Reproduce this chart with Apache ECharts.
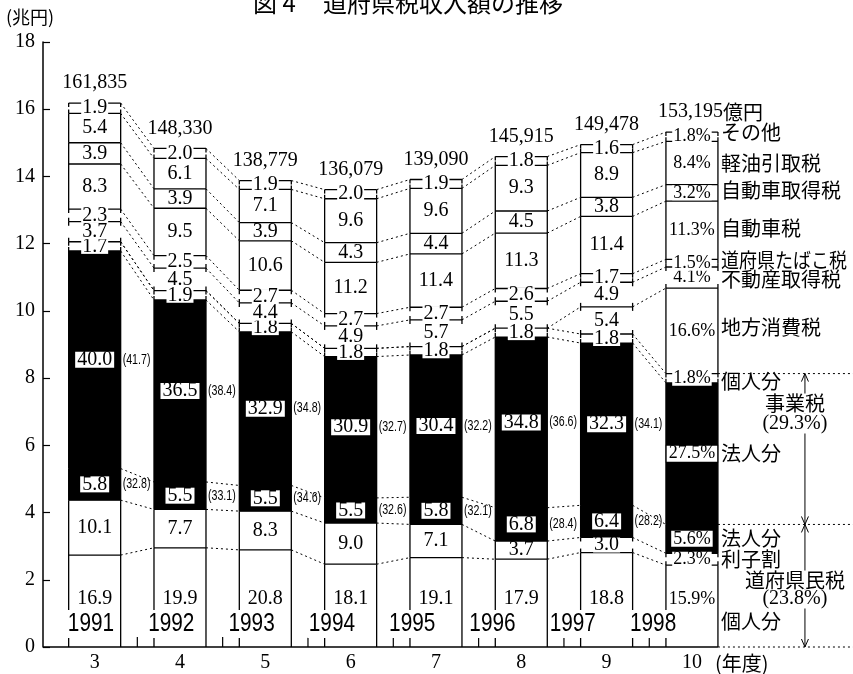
<!DOCTYPE html>
<html><head><meta charset="utf-8">
<script src="https://cdn.jsdelivr.net/npm/echarts@6/dist/echarts.min.js"></script>
<style>html,body{margin:0;padding:0;background:#fff}#c{width:853px;height:674px}</style>
</head><body><div id="c"></div>
<script>
// ---------- data ----------
const fiscalYears   = ['3','4','5','6','7','8','9','10'];
const calendarYears = ['1991','1992','1993','1994','1995','1996','1997','1998'];
const totals = [161835,148330,138779,136079,139090,145915,149478,153195]; // 億円
// shares (%) bottom -> top
const kojinFukenmin  = [16.9,19.9,20.8,18.1,19.1,17.9,18.8,15.9];
const rishiwari      = [10.1,7.7,8.3,9.0,7.1,3.7,3.0,2.3];
const hojinFukenmin  = [5.8,5.5,5.5,5.5,5.8,6.8,6.4,5.6];
const hojinJigyo     = [40.0,36.5,32.9,30.9,30.4,34.8,32.3,27.5];
const kojinJigyo     = [1.7,1.9,1.8,1.8,1.8,1.8,1.8,1.8];
const chihoShohi     = [0,0,0,0,0,0,5.4,16.6];
const fudosan        = [3.7,4.5,4.4,4.9,5.7,5.5,4.9,4.1];
const tabako         = [2.3,2.5,2.7,2.7,2.7,2.6,1.7,1.5];
const jidoshaZei     = [8.3,9.5,10.6,11.2,11.4,11.3,11.4,11.3];
const jidoshaShutoku = [3.9,3.9,3.9,4.3,4.4,4.5,3.8,3.2];
const keiyu          = [5.4,6.1,7.1,9.6,9.6,9.3,8.9,8.4];
const sonota         = [1.9,2.0,1.9,2.0,1.9,1.8,1.6,1.8];
const jigyoTotal     = [41.7,38.4,34.8,32.7,32.2,36.6,34.1,29.3];
const fukenminTotal  = [32.8,33.1,34.6,32.6,32.1,28.4,28.2,23.8];
const segmentNames = ['個人分','利子割','法人分','法人分','個人分','地方消費税','不動産取得税','道府県たばこ税','自動車税','自動車取得税','軽油引取税','その他'];
const groupNames = ['事業税','道府県民税'];

// ---------- style ----------
const SERIF = '"Liberation Serif","DejaVu Serif",serif';
const SANS = '"Liberation Sans",Arial,sans-serif';
const CJK = '"Noto Sans CJK JP",sans-serif';
const BAR_W = 52;
const layers = [kojinFukenmin, rishiwari, hojinFukenmin, hojinJigyo, kojinJigyo, chihoShohi, fudosan, tabako, jidoshaZei, jidoshaShutoku, keiyu, sonota];
const blackLayers = [2,3];
const bracketLayers = [4,5,6,7,11];
const nameDy = [22,0,0,0,3,-3,2,-3,-2,-2,0,-4];

function bounds(i){
  const vals = layers.map(a => a[i]);
  const sum = vals.reduce((s,v)=>s+v,0);
  const tot = totals[i]/10000;
  const b=[0];
  vals.forEach(v => b.push(b[b.length-1] + v/sum*tot));
  return b;
}
const fmt = n => n.toLocaleString('en-US');
const line = (x1,y1,x2,y2,w,dash) => ({type:'line', silent:true, shape:{x1,y1,x2,y2}, style:{stroke:'#000', lineWidth:w||1.3, lineDash:dash||null}});
const head = (x,y,dir) => ({type:'polyline', silent:true, shape:{points:[[x-3.5,y-dir*8],[x,y],[x+3.5,y-dir*8]]}, style:{stroke:'#000', fill:null, lineWidth:1}});
const txt = (text,x,y,o,sx) => ({type:'text', silent:true, z2:10, x, y, scaleX: sx||1,
  style:Object.assign({text,x:0,y:0,align:'center',verticalAlign:'middle',fill:'#000',fontSize:20,fontFamily:SERIF}, o||{})});

function renderItem(params, api){
  const i = params.dataIndex, n = totals.length, last = i===n-1;
  const cs = params.coordSys;
  const base = api.coord([i,0]);
  const cx = base[0], y0 = base[1];
  const xl = cx-BAR_W/2, xr = cx+BAR_W/2;
  const b = bounds(i);
  const ys = b.map(v => api.coord([i,v])[1]);
  const L = layers.length;
  const ch = [];
  for (let k=0;k<L;k++){
    const h = ys[k]-ys[k+1];
    if (h<=0) continue;
    ch.push({type:'rect', silent:true, shape:{x:xl,y:ys[k+1],width:BAR_W,height:h}, style:{fill: blackLayers.includes(k)?'#000':'#fff'}});
  }
  for (let k=1;k<=L;k++){
    if (layers[k-1][i]<=0) continue;
    ch.push(line(xl,ys[k],xr,ys[k]));
  }
  for (let k=0;k<L;k++){
    const top=ys[k+1], bot=ys[k], h=bot-top;
    if (h<=0) continue;
    const br = (bracketLayers.includes(k) && h<30) || h<16;
    if (br){
      const t=Math.min(4,h/2);
      [xl,xr].forEach(x=>{ch.push(line(x,top,x,top+t)); ch.push(line(x,bot-t,x,bot));});
    } else {
      [xl,xr].forEach(x=>ch.push(line(x,top,x,bot)));
    }
  }
  if (!last){
    const nb = bounds(i+1);
    const ncx = api.coord([i+1,0])[0];
    const nx = ncx-BAR_W/2;
    for (let k=1;k<=L;k++){
      const ny = api.coord([i+1,nb[k]])[1];
      ch.push(line(xr,ys[k],nx,ny,1,[2,3]));
    }
    const mx=(cx+ncx)/2;
    ch.push(line(mx,y0,mx,y0-10,1.2));
  }
  const fs = last?18:20;
  const labelY=[];
  for (let k=0;k<L;k++){
    const v = layers[k][i];
    labelY[k] = k===0 ? y0-48 : (ys[k]+ys[k+1])/2;
    if (v<=0) continue;
    const black = blackLayers.includes(k);
    ch.push(txt(v.toFixed(1)+(last?'%':''), cx, labelY[k], {fontSize:fs, backgroundColor:'#fff', padding: black?[1,2,0,2]:[0,1], borderColor: black?'#000':null, borderWidth: black?1:0, lineHeight:15}));
  }
  if (!last){
    [[3,jigyoTotal[i]],[2,fukenminTotal[i]]].forEach(([k,v]) =>
      ch.push(txt('('+v.toFixed(1)+')', xr+2, labelY[k], {align:'left', fontSize:14, fontFamily:SANS}, 0.76)));
  }
  const yt = ys[L]-20;
  if (!last) ch.push(txt(fmt(totals[i]), cx, yt));
  else ch.push(txt('{n|'+fmt(totals[i])+'}{u|億円}', cx-34, yt, {align:'left', rich:{n:{fontSize:20,fontFamily:SERIF}, u:{fontSize:20,fontFamily:CJK}}}));
  if (last){
    const W = api.getWidth();
    const xa = xr+87;
    ch.push(line(cs.x-9,y0,xr,y0,1.5));
    ch.push(line(xr,y0,W,y0,1,[2,3]));
    ch.push(line(xr,ys[5],W,ys[5],1,[2,3]));
    ch.push(line(xr,ys[3],W,ys[3],1,[2,3]));
    ch.push(line(xa,ys[5],xa,y0,1));
    ch.push(head(xa,ys[5],-1), head(xa,ys[3],1), head(xa,ys[3],-1), head(xa,y0,1));
    segmentNames.forEach((nm,k)=> {
      const sx = Math.min(1, 126/(nm.length*20));
      ch.push(txt(nm, xr+3, labelY[k]+nameDy[k], {align:'left', fontFamily:CJK, fontSize:20}, sx));
    });
    const xt = xa-10;
    ch.push(txt(groupNames[0], xt, ys[5]+30, {fontFamily:CJK, backgroundColor:'#fff', lineHeight:20}));
    ch.push(txt('('+jigyoTotal[i].toFixed(1)+'%)', xt, ys[5]+50, {backgroundColor:'#fff', lineHeight:20}));
    ch.push(txt(groupNames[1], xt, y0-67, {fontFamily:CJK, backgroundColor:'#fff', lineHeight:19}));
    ch.push(txt('('+fukenminTotal[i].toFixed(1)+'%)', xt, y0-48, {backgroundColor:'#fff', lineHeight:19}));
  }
  return {type:'group', children:ch};
}

function renderYear(params, api){
  const p = api.coord([params.dataIndex, 0]);
  return txt(calendarYears[params.dataIndex], p[0], p[1]-9,
    {verticalAlign:'bottom', fontFamily:SANS, fontSize:26, lineHeight:26, backgroundColor:'#fff', padding:[1,2]}, 0.8);
}

const chart = echarts.init(document.getElementById('c'), null, {renderer:'canvas'});
chart.setOption({
  animation:false,
  backgroundColor:'#fff',
  grid:[
    {left:52, right:118.4, top:42, bottom:27},
    {left:50.85, right:159.75, top:42, bottom:27}
  ],
  xAxis:[
    {gridIndex:0, type:'category', data:fiscalYears, axisLine:{show:false}, axisTick:{show:false},
     axisLabel:{color:'#000', fontFamily:SERIF, fontSize:20, margin:6}},
    {gridIndex:1, type:'category', data:calendarYears, show:false}
  ],
  yAxis:[
    {gridIndex:0, type:'value', min:0, max:18, interval:2, offset:9,
     axisLine:{show:true, lineStyle:{color:'#000', width:1.5}},
     axisTick:{show:true, inside:true, length:7, lineStyle:{color:'#000', width:1.2}},
     axisLabel:{color:'#000', fontFamily:SERIF, fontSize:20, margin:8},
     splitLine:{show:false}},
    {gridIndex:1, type:'value', min:0, max:18, show:false}
  ],
  graphic:[
    {type:'text', x:253, y:-9, style:{text:'図 4', fontFamily:CJK, fontSize:24, fill:'#000', verticalAlign:'top'}},
    {type:'text', x:323, y:-9, style:{text:'道府県税収入額の推移', fontFamily:CJK, fontSize:24, fill:'#000', verticalAlign:'top'}},
    {type:'text', x:6, y:17, style:{text:'(兆円)', fontFamily:CJK, fontSize:18, fill:'#000', verticalAlign:'middle'}},
    {type:'text', x:715, y:663, style:{text:'(年度)', fontFamily:CJK, fontSize:20, fill:'#000', verticalAlign:'middle'}}
  ],
  series:[{
    type:'custom', xAxisIndex:0, yAxisIndex:0, clip:false, z:2,
    renderItem, encode:{x:0, y:1},
    data: totals.map((t,i)=>[i, t/10000])
  },{
    type:'custom', xAxisIndex:1, yAxisIndex:1, clip:false, z:5,
    renderItem: renderYear, encode:{x:0, y:1},
    data: calendarYears.map((y,i)=>[i, 0])
  }]
});
</script></body></html>
